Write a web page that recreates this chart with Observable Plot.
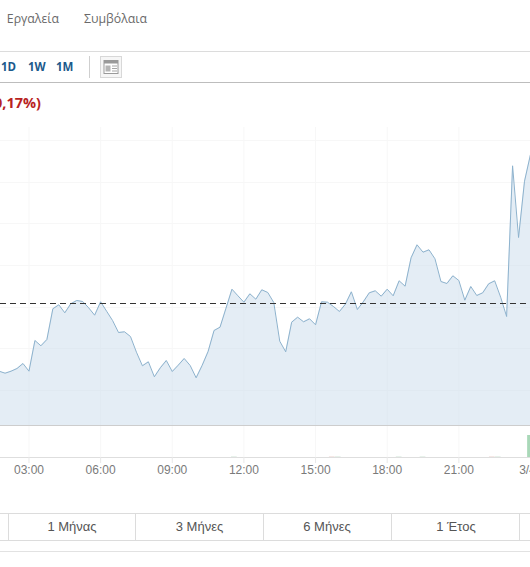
<!DOCTYPE html>
<html lang="el">
<head>
<meta charset="utf-8">
<script src="https://cdn.jsdelivr.net/npm/d3@7"></script>
<script src="https://cdn.jsdelivr.net/npm/@observablehq/plot@0.6"></script>
<style>
html,body{margin:0;padding:0;background:#fff;width:530px;height:567px;overflow:hidden}
.abs{position:absolute;white-space:nowrap}
.hl{position:absolute;left:0;width:530px;height:1px}
.vl{position:absolute;width:1px}
.nav{font:12.3px "Open Sans",sans-serif;color:#6a6a6a;top:10px}
.rng{font:bold 11.5px "Open Sans",sans-serif;color:#1c5a8c;top:59px}
.tab{font:13px "Liberation Sans",Arial,sans-serif;color:#555;top:519px;text-align:center;transform:translateX(-50%)}
svg{display:block}
#price,#volume{position:absolute;left:0}
</style>
</head>
<body>
<div class="abs nav" style="right:471px">Εργαλεία</div>
<div class="abs nav" style="left:84px">Συμβόλαια</div>
<div class="hl" style="top:51px;background:#dcdcdc"></div>
<div class="abs rng" style="left:1px">1D</div>
<div class="abs rng" style="left:28px">1W</div>
<div class="abs rng" style="left:56px">1M</div>
<div class="vl" style="left:89px;top:56px;height:22px;background:#cfcfcf"></div>
<svg class="abs" style="left:100px;top:56px" width="22" height="22" viewBox="0 0 22 22">
  <rect x="0.5" y="0.5" width="21" height="21" fill="#f6f6f6" stroke="#d8d8d8"/>
  <rect x="4" y="4.5" width="14" height="13" fill="#fff" stroke="#9a9a9a"/>
  <rect x="4" y="4.5" width="14" height="3" fill="#9a9a9a"/>
  <rect x="5.5" y="9.5" width="5" height="6" fill="#b5b5b5"/>
  <path d="M12 10h5M12 12.5h5M12 15h5" stroke="#a5a5a5"/>
</svg>
<div class="hl" style="top:82px;background:#bdbdbd"></div>
<div class="abs" style="right:489px;top:93px;font:bold 14.5px 'Open Sans',sans-serif;color:#b8231f">(-0,17%)</div>
<div id="price" style="top:127px"></div>
<div id="volume" style="top:426px"></div>
<div class="hl" style="top:513px;background:#dcdcdc"></div>
<div class="hl" style="top:540px;background:#dcdcdc"></div>
<div class="hl" style="top:551px;background:#e2e2e2"></div>
<div class="vl" style="left:8px;top:513px;height:27px;background:#dcdcdc"></div>
<div class="vl" style="left:135px;top:513px;height:27px;background:#dcdcdc"></div>
<div class="vl" style="left:263px;top:513px;height:27px;background:#dcdcdc"></div>
<div class="vl" style="left:391px;top:513px;height:27px;background:#dcdcdc"></div>
<div class="vl" style="left:519px;top:513px;height:27px;background:#dcdcdc"></div>
<div class="abs tab" style="left:72px">1 Μήνας</div>
<div class="abs tab" style="left:199.5px">3 Μήνες</div>
<div class="abs tab" style="left:327px">6 Μήνες</div>
<div class="abs tab" style="left:456px">1 Έτος</div>
<script>
// Price, one reading per 15 minutes from 01:45
const priceValues = [54.3,52.3,54.3,57,62,54.3,85,79.7,86,116.7,120.7,112.7,121.7,125,124,117.7,110.3,123.7,114.3,105,93,93.7,89,73.3,59.7,63.7,48.7,57.7,65,54,60.3,67,60,47.7,60,74,95,98.3,117.3,136.3,129.7,123.3,131.7,126.3,135.7,133,123,84.3,73.7,103.3,108.3,103.7,106.7,100.7,123.7,123.3,119,114,121.3,133.7,116,123.7,132.7,134.7,129.3,136.3,129.7,144.7,139.3,167.7,180.7,173.3,175.7,166.7,144,142,149.7,145,125.3,139,130,132.7,141.7,144.7,128.3,109,259.7,188,244.3,271];
const startHour = 1.75;
const stepHour = 0.25;
const previousClose = 122;
const gridValues = [285,243,202,160,118,77,35];
const tickHours = [3,6,9,12,15,18,21,24];
const tickLabels = ["03:00","06:00","09:00","12:00","15:00","18:00","21:00","3/4"];
const volumeHours = [11.6,15.7,15.95,18.5,19.5,22.4,22.65,24];
const volumeValues = [0.8,0.8,0.8,0.8,0.8,0.8,0.8,22];
const volumeColors = ["#e3efe6","#f3e3e0","#e3efe6","#e3efe6","#e3efe6","#f3e3e0","#e3efe6","#a9d8b8"];

const hours = priceValues.map((_, i) => startHour + i * stepHour);
const xDomain = [1.8075, 24];
const gridV = "#f7f7f7";
const axisFont = {fontSize: 12, fontFamily: "'Liberation Sans',Arial,sans-serif", fill: "#7a7a7a", color: "#7a7a7a"};
const tickText = h => tickLabels[tickHours.indexOf(h)];

const price = Plot.plot({
  width: 530, height: 299,
  marginTop: 0, marginBottom: 0, marginLeft: 0, marginRight: 0,
  x: {domain: xDomain, range: [0, 530], axis: null},
  y: {domain: [0, 298], range: [298, 0], axis: null},
  style: {background: "transparent"},
  marks: [
    Plot.ruleX(tickHours, {stroke: gridV, strokeWidth: 1}),
    Plot.ruleY(gridValues, {stroke: gridV, strokeWidth: 1}),
    Plot.areaY(priceValues, {x: (_, i) => hours[i], y1: 0, y2: d => d, fill: "#c9dcec", fillOpacity: 0.5, curve: "linear", clip: true}),
    Plot.lineY(priceValues, {x: (_, i) => hours[i], y: d => d, stroke: "#8db2cd", strokeWidth: 1, curve: "linear", clip: true}),
    Plot.ruleY([previousClose], {stroke: "#333", strokeWidth: 1, strokeDasharray: "6,4"}),
    Plot.ruleY([0], {stroke: "#cdcdcd", strokeWidth: 1})
  ]
});
document.getElementById("price").appendChild(price);

const volume = Plot.plot({
  width: 530, height: 54,
  marginTop: 0, marginBottom: 23, marginLeft: 0, marginRight: 0,
  x: {domain: xDomain, range: [0, 530], axis: null},
  y: {domain: [0, 31], range: [31, 0], axis: null},
  style: {background: "transparent"},
  marks: [
    Plot.ruleX(tickHours, {stroke: gridV, strokeWidth: 1}),
    Plot.rectY(volumeValues, {x1: (_, i) => volumeHours[i] - 0.12, x2: (_, i) => volumeHours[i] + 0.12, y1: 0, y2: d => d, fill: (_, i) => volumeColors[i]}),
    Plot.ruleY([0], {stroke: "#dedede", strokeWidth: 1}),
    Plot.axisX({ticks: tickHours.slice(0, -1), tickSize: 6, tickPadding: 2, stroke: "#e8e8e8", tickFormat: tickText, ...axisFont}),
    Plot.axisX({ticks: tickHours.slice(-1), tickSize: 0, tickPadding: 8, dx: -3, tickFormat: tickText, ...axisFont})
  ]
});
document.getElementById("volume").appendChild(volume);
</script>
</body>
</html>
